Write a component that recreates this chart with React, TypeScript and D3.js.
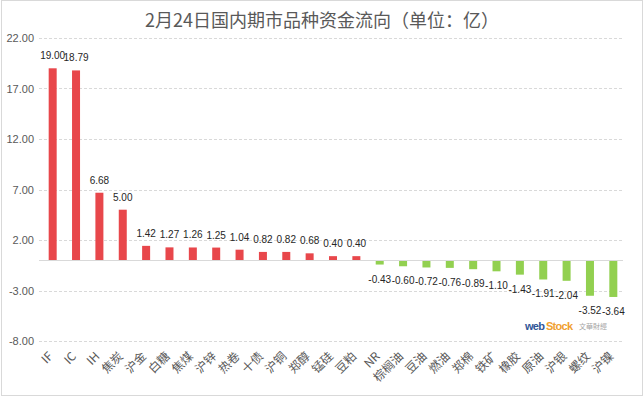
import React, { useEffect, useRef } from 'react';
import * as d3 from 'd3';

const categories: string[] = [
  'IF', 'IC', 'IH', '焦炭', '沪金', '白糖', '焦煤', '沪锌', '热卷', '十债', '沪铜', '郑醇', '锰硅',
  '豆粕', 'NR', '棕榈油', '豆油', '燃油', '郑棉', '铁矿', '橡胶', '原油', '沪银', '螺纹', '沪镍',
];
const flows: number[] = [
  19.0, 18.79, 6.68, 5.0, 1.42, 1.27, 1.26, 1.25, 1.04, 0.82, 0.82, 0.68, 0.4,
  0.4, -0.43, -0.6, -0.72, -0.76, -0.89, -1.1, -1.43, -1.91, -2.04, -3.52, -3.64,
];
const yTicks: number[] = [22, 17, 12, 7, 2, -3, -8];
const title = '2月24日国内期市品种资金流向（单位：亿）';

const App: React.FC = () => {
  const chartRef = useRef<SVGSVGElement | null>(null);

  useEffect(() => {
    if (!chartRef.current) return;
    const W = 644;
    const H = 398;
    const margin = { top: 38, right: 20, bottom: 57, left: 41 };

    d3.select(chartRef.current).selectAll('*').remove();
    const svg = d3.select(chartRef.current).attr('width', W).attr('height', H);

    svg.append('rect').attr('width', W).attr('height', H).attr('fill', '#fff');
    // outer border
    svg
      .append('rect')
      .attr('x', 1.5)
      .attr('y', 0.5)
      .attr('width', 641)
      .attr('height', 395)
      .attr('fill', 'none')
      .attr('stroke', '#d9d9d9');

    svg
      .append('text')
      .attr('x', 322)
      .attr('y', 27)
      .attr('text-anchor', 'middle')
      .attr('font-family', '"Noto Sans CJK SC", sans-serif')
      .attr('font-size', 18)
      .attr('fill', '#595959')
      .text(title);

    const x = d3
      .scaleBand<string>()
      .domain(categories)
      .range([margin.left, 625])
      .paddingInner(0.66)
      .paddingOuter(0.33);

    const y = d3.scaleLinear().domain([-8, 22]).range([341, 38]);

    // grid
    svg
      .append('g')
      .selectAll('line')
      .data(yTicks)
      .enter()
      .append('line')
      .attr('x1', 39)
      .attr('x2', 623)
      .attr('y1', (d) => Math.round(y(d)) + 0.5)
      .attr('y2', (d) => Math.round(y(d)) + 0.5)
      .attr('stroke', '#d9d9d9')
      .attr('stroke-dasharray', '3,2');

    svg
      .append('g')
      .selectAll('text')
      .data(yTicks)
      .enter()
      .append('text')
      .attr('x', 34)
      .attr('y', (d) => y(d) + 4)
      .attr('text-anchor', 'end')
      .attr('font-family', '"Liberation Sans", Arial, sans-serif')
      .attr('font-size', 11)
      .attr('fill', '#595959')
      .text((d) => d.toFixed(2));

    // bars
    const bw = 8;
    svg
      .append('g')
      .selectAll('rect')
      .data(flows)
      .enter()
      .append('rect')
      .attr('x', (_d, i) => (x(categories[i]) || 0) + x.bandwidth() / 2 - bw / 2)
      .attr('y', (d) => y(Math.max(0, d)))
      .attr('width', bw)
      .attr('height', (d) => Math.abs(y(d) - y(0)))
      .attr('fill', (d) => (d >= 0 ? '#E8474B' : '#92D050'));

    // zero line
    svg
      .append('line')
      .attr('x1', 39)
      .attr('x2', 623)
      .attr('y1', Math.round(y(0)) + 0.5)
      .attr('y2', Math.round(y(0)) + 0.5)
      .attr('stroke', '#d9d9d9');

    // value labels
    svg
      .append('g')
      .selectAll('text')
      .data(flows)
      .enter()
      .append('text')
      .attr('x', (_d, i) => (x(categories[i]) || 0) + x.bandwidth() / 2)
      .attr('y', (d) => (d >= 0 ? y(d) - 9 : y(d) + 18))
      .attr('text-anchor', 'middle')
      .attr('font-family', '"Liberation Sans", Arial, sans-serif')
      .attr('font-size', 10)
      .attr('fill', '#262626')
      .text((d) => d.toFixed(2));

    // category labels
    svg
      .append('g')
      .selectAll('text')
      .data(categories)
      .enter()
      .append('text')
      .attr('transform', (d) => `translate(${(x(d) || 0) + x.bandwidth() / 2 + 1},${357}) rotate(-45)`)
      .attr('text-anchor', 'end')
      .attr('font-family', '"Noto Sans CJK SC", sans-serif')
      .attr('font-size', 12)
      .attr('fill', '#595959')
      .text((d) => d);

    // watermark
    const wm = svg.append('g').attr('font-weight', 'bold');
    wm.append('text')
      .attr('x', 525)
      .attr('y', 330)
      .attr('font-family', '"Liberation Sans", Arial, sans-serif')
      .attr('font-size', 11)
      .attr('fill', '#2f5597')
      .attr('textLength', 20)
      .text('web');
    wm.append('text')
      .attr('x', 546)
      .attr('y', 330)
      .attr('font-family', '"Liberation Sans", Arial, sans-serif')
      .attr('font-size', 11)
      .attr('fill', '#f0a030')
      .attr('textLength', 27)
      .text('Stock');
    svg
      .append('text')
      .attr('x', 579)
      .attr('y', 329)
      .attr('font-family', '"Noto Sans CJK TC", sans-serif')
      .attr('font-size', 7)
      .attr('fill', '#a6a6a6')
      .text('文華財經');
  }, []);

  return <svg ref={chartRef} style={{ position: 'absolute', left: 0, top: 0 }}></svg>;
};

export default App;
